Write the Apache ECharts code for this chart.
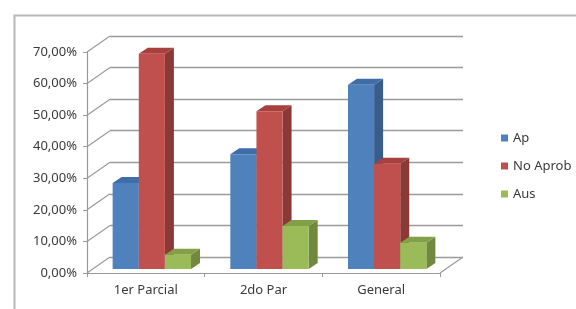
<!DOCTYPE html>
<html>
<head>
<meta charset="utf-8">
<script src="https://cdn.jsdelivr.net/npm/echarts@6/dist/echarts.min.js"></script>
<style>
  html, body { margin: 0; padding: 0; background: #fff; }
  #chart { width: 576px; height: 309px; }
</style>
</head>
<body>
<div id="chart"></div>
<script>
// datos
var categories = ['1er Parcial', '2do Par', 'General'];
var seriesNames = ['Ap', 'No Aprob', 'Aus'];
var apValues = [27.27, 36.36, 58.33];
var noAprobValues = [68.18, 50.00, 33.33];
var ausValues = [4.55, 13.64, 8.33];
var yTicks = [0, 10, 20, 30, 40, 50, 60, 70];

// colores: frente, lado, techo
var faceColors = ['#4F81BD', '#C0504D', '#9BBB59'];
var sideColors = ['#385D8A', '#8C3836', '#71893F'];
var topColors = ['#3F6DA8', '#A8413E', '#82A04A'];

var DEPTH_X = 23, DEPTH_Y = 16; // fondo del gráfico
var FRONT_X = 6, FRONT_Y = 4;   // cara frontal de la barra
var BAR_DX = 9, BAR_DY = 6;     // profundidad de la barra
var lineColor = '#9a9a9a';
var textColor = '#3a3a3a';

var chart = echarts.init(document.getElementById('chart'));

function fmt(v) {
  return v.toFixed(2).replace('.', ',') + '%';
}

function makeBarSeries(idx, values) {
  var data = [];
  for (var i = 0; i < values.length; i++) data.push([i, values[i]]);
  return {
    name: seriesNames[idx],
    type: 'custom',
    xAxisIndex: 0,
    yAxisIndex: 0,
    itemStyle: { color: faceColors[idx] },
    encode: { x: 0, y: 1 },
    data: data,
    renderItem: function(params, api) {
      var cat = api.value(0);
      var top = api.coord([cat, api.value(1)]);
      var base = api.coord([cat, 0]);
      var band = api.size([1, 0])[0];
      var w = band * 0.222;
      var x = top[0] - 1.5 * w + idx * w + FRONT_X;
      var yT = top[1] - FRONT_Y;
      var yB = base[1] - FRONT_Y;
      return {
        type: 'group',
        children: [
          { type: 'polygon', shape: { points: [[x + w, yT], [x + w + BAR_DX, yT - BAR_DY], [x + w + BAR_DX, yB - BAR_DY], [x + w, yB]] },
            style: { fill: sideColors[idx] } },
          { type: 'polygon', shape: { points: [[x, yT], [x + BAR_DX, yT - BAR_DY], [x + w + BAR_DX, yT - BAR_DY], [x + w, yT]] },
            style: { fill: topColors[idx] } },
          { type: 'rect', shape: { x: x, y: yT, width: w, height: yB - yT },
            style: { fill: faceColors[idx] } }
        ]
      };
    }
  };
}

// líneas diagonales de la pared izquierda y del piso
var wallData = [];
for (var k = 0; k < yTicks.length; k++) wallData.push([0, yTicks[k]]);

var option = {
  backgroundColor: '#fff',
  animation: false,
  textStyle: { fontFamily: 'Noto Sans' },
  graphic: [{
    type: 'rect', left: 12, top: 13, z: -10,
    shape: { width: 600, height: 320 },
    style: { fill: 'none', stroke: '#b8b8b8', lineWidth: 2 }
  }],
  legend: {
    orient: 'vertical',
    left: 496,
    top: 126,
    itemWidth: 7,
    itemHeight: 7,
    itemGap: 14,
    icon: 'rect',
    textStyle: { fontSize: 13, color: textColor, lineHeight: 14 },
    data: seriesNames
  },
  grid: [
    { left: 87, top: 52, width: 353, height: 221 },
    { left: 87 + DEPTH_X, top: 52 - DEPTH_Y, width: 353, height: 221 }
  ],
  xAxis: [{
    type: 'category', gridIndex: 0, data: categories,
    axisLine: { lineStyle: { color: lineColor, width: 1.2 } },
    axisTick: { show: true, length: 4, lineStyle: { color: lineColor } },
    axisLabel: { color: textColor, fontSize: 13, margin: 11 }
  }, {
    type: 'category', gridIndex: 1, data: categories,
    axisLine: { show: false }, axisTick: { show: false }, axisLabel: { show: false }
  }],
  yAxis: [{
    type: 'value', gridIndex: 0, min: 0, max: 70, interval: 10,
    axisLine: { show: true, lineStyle: { color: lineColor, width: 1.2 } },
    axisTick: { show: true, length: 4, lineStyle: { color: lineColor } },
    splitLine: { show: false },
    axisLabel: { color: textColor, fontSize: 13, margin: 10, formatter: fmt }
  }, {
    type: 'value', gridIndex: 1, min: 0, max: 70, interval: 10,
    axisLine: { show: false }, axisTick: { show: false }, axisLabel: { show: false },
    splitLine: { show: true, lineStyle: { color: lineColor, width: 1.4 } }
  }],
  series: [{
    type: 'custom',
    xAxisIndex: 0,
    yAxisIndex: 0,
    silent: true,
    encode: { x: 0, y: 1 },
    data: wallData,
    z: 1,
    renderItem: function(params, api) {
      var p = api.coord([0, api.value(1)]);
      var x0 = params.coordSys.x;
      var x1 = x0 + params.coordSys.width;
      var st = { stroke: lineColor, lineWidth: 1.2 };
      var kids = [{ type: 'line', shape: { x1: x0, y1: p[1], x2: x0 + DEPTH_X, y2: p[1] - DEPTH_Y }, style: st }];
      if (api.value(1) === 0) {
        kids.push({ type: 'line', shape: { x1: x1, y1: p[1], x2: x1 + DEPTH_X, y2: p[1] - DEPTH_Y }, style: st });
      }
      return { type: 'group', children: kids };
    }
  },
    makeBarSeries(0, apValues),
    makeBarSeries(1, noAprobValues),
    makeBarSeries(2, ausValues)
  ]
};

chart.setOption(option);
</script>
</body>
</html>
